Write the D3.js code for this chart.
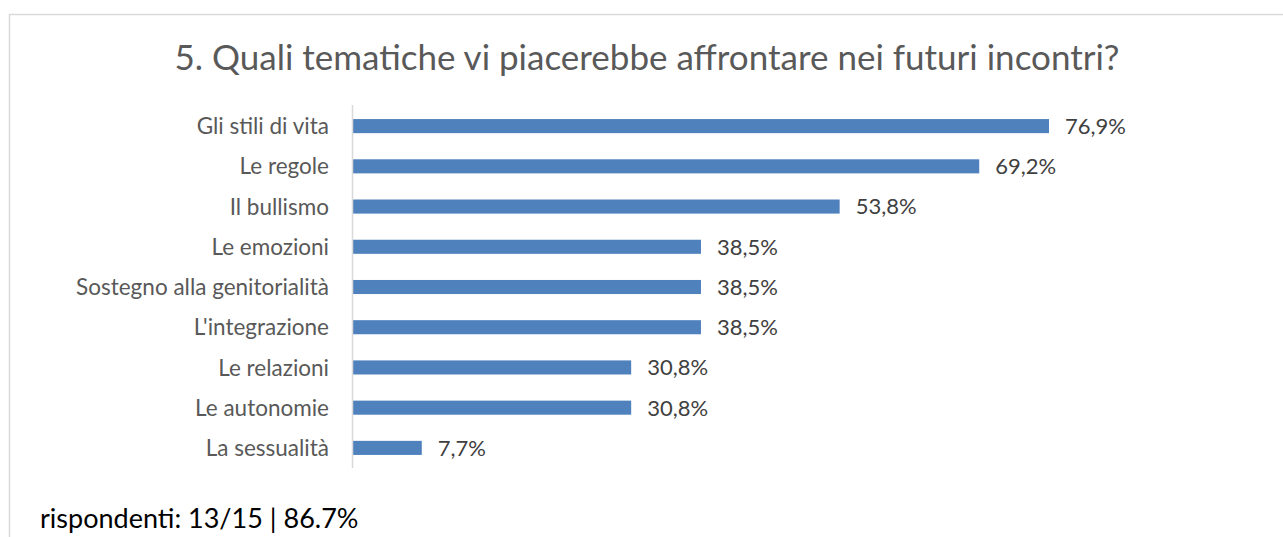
<!DOCTYPE html>
<html>
<head>
<meta charset="utf-8">
<script src="https://cdn.jsdelivr.net/npm/d3@7"></script>
<style>
  body { margin: 0; background: #fff; }
  svg { display: block; }
</style>
</head>
<body>
<div class="chart"></div>
<script>
// data
const categories = ["Gli stili di vita", "Le regole", "Il bullismo", "Le emozioni",
    "Sostegno alla genitorialità", "L'integrazione", "Le relazioni", "Le autonomie", "La sessualità"];
const values = [76.9, 69.2, 53.8, 38.5, 38.5, 38.5, 30.8, 30.8, 7.7];
const title = "5. Quali tematiche vi piacerebbe affrontare nei futuri incontri?";
const footer = "rispondenti: 13/15 | 86.7%";

const W = 1283, H = 537;
const font = "Lato, 'Open Sans', sans-serif";

let svg = d3.select(".chart")
    .append("svg")
    .attr("width", W)
    .attr("height", H);

// frame
svg.append("path")
    .attr("d", "M9.5," + H + "V14.5H" + W)
    .attr("fill", "none")
    .attr("stroke", "#d9d9d9")
    .attr("stroke-width", 1.5);

// title
svg.append("text")
    .attr("x", 647)
    .attr("y", 70)
    .attr("text-anchor", "middle")
    .attr("font-family", font)
    .attr("font-size", 35)
    .attr("fill", "#595959")
    .text(title);

// scales
let xScale = d3.scaleLinear()
    .domain([0, 100])
    .range([352, 352 + 906.4]);

let yScale = d3.scaleBand()
    .domain(categories)
    .range([106, 468])
    .paddingInner(0.65)
    .paddingOuter(0.325);

// bars
svg.selectAll("rect.bar")
    .data(values)
    .enter()
    .append("rect")
    .attr("class", "bar")
    .attr("x", xScale(0))
    .attr("y", (d, i) => yScale(categories[i]))
    .attr("width", d => xScale(d) - xScale(0))
    .attr("height", yScale.bandwidth())
    .attr("fill", "#4f81bd");

// value labels
svg.selectAll("text.val")
    .data(values)
    .enter()
    .append("text")
    .attr("class", "val")
    .attr("x", d => xScale(d) + 16)
    .attr("y", (d, i) => yScale(categories[i]) + yScale.bandwidth() / 2)
    .attr("dy", "0.36em")
    .attr("font-family", font)
    .attr("font-size", 22)
    .attr("fill", "#404040")
    .text(d => d3.format(".1f")(d).replace(".", ",") + "%");

// y axis
let yAxis = svg.append("g")
    .attr("transform", "translate(352,0)")
    .call(d3.axisLeft(yScale).tickSize(0).tickPadding(23));
yAxis.select(".domain")
    .attr("d", "M0.5,105V468")
    .attr("stroke", "#d9d9d9")
    .attr("stroke-width", 1.5);
yAxis.selectAll("text")
    .attr("font-family", font)
    .attr("font-size", 22.5)
    .attr("dy", "0.36em")
    .attr("fill", "#595959");

// footer
svg.append("text")
    .attr("x", 40)
    .attr("y", 528)
    .attr("font-family", font)
    .attr("font-size", 27)
    .attr("fill", "#000")
    .text(footer);
</script>
</body>
</html>
